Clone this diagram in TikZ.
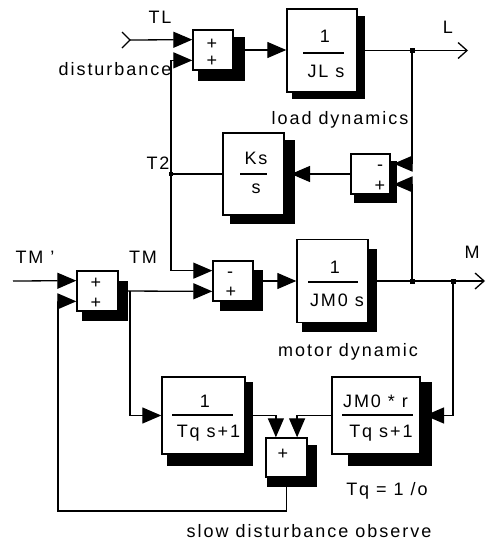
\documentclass[tikz,border=0pt]{standalone}
\usepackage{fontspec}
\setmainfont{Liberation Sans}[LetterSpace=11]
\usetikzlibrary{arrows.meta,calc}
\newcommand\sblock[9]{%
  \fill ({#2-#4/2+#6},{#3-#5/2+#7}) rectangle ({#2+#4/2+#8},{#3+#5/2+#9});
  \node[blk, minimum width=#4pt, minimum height=#5pt] (#1) at (#2,#3) {};}
\begin{document}
\begin{tikzpicture}[x=1pt,y=-1pt,
  font=\fontsize{18}{21}\selectfont,
  blk/.style={draw, fill=white, line width=1.4pt, inner sep=0pt},
  wire/.style={line width=1.3pt},
  arr/.style={line width=1.3pt, -{Triangle[length=19pt,width=16pt]}},
  outarr/.style={line width=1.3pt, -{Straight Barb[length=9pt,width=16pt,line width=1.3pt]}},
  lbl/.style={anchor=base, inner sep=0pt},
  dot/.style={fill, minimum size=5pt, inner sep=0pt},
  sdot/.style={fill, minimum size=3.5pt, inner sep=0pt},
]
\useasboundingbox (0,0) rectangle (488,541);

% blocks with shadows
\sblock{s1}{213}{50}{40}{40}{5}{7}{12}{11}
\sblock{jl}{322}{50.5}{70}{83}{5}{7}{8}{7}
\sblock{ks}{253.5}{174}{61}{82}{7}{7}{11}{9}
\sblock{s2}{370.5}{174}{39}{40}{3}{7}{7}{9}
\sblock{s3}{233}{281}{40}{40}{7}{9}{10}{10}
\sblock{jm}{332.5}{281}{71}{83}{5}{9}{9}{9}
\sblock{s4}{97.5}{291}{41}{40}{5}{10}{10}{10}
\sblock{t1}{203.5}{415.5}{83}{77}{5}{5}{8}{12}
\sblock{t2}{376}{415.5}{88}{77}{16}{5}{12}{12}
\sblock{s5}{286.5}{457.5}{41}{39}{1}{7}{10}{10}

% block contents
\node[lbl] (s1p1) at (212,49) {+};
\node[lbl] (s1p2) at (212,66) {+};
\node[lbl] (s2m) at (380,170) {-};
\node[lbl] (s2p) at (380,191) {+};
\node[lbl] (s3m) at (230,277) {-};
\node[lbl] (s3p) at (231,297) {+};
\node[lbl] (s4p1) at (96,288) {+};
\node[lbl] (s4p2) at (96,308) {+};
\node[lbl] (s5p) at (283,459) {+};

\draw[wire] (303,53) -- (344,53);
\node[lbl] (jlnum) at (325,42) {1};
\node[lbl] (jlden) at (326,77) {JL s};

\draw[wire] (240,174) -- (267,174);
\node[lbl] (ksnum) at (256,164) {Ks};
\node[lbl] (ksden) at (256,193) {s};

\draw[wire] (308,282) -- (358,282);
\node[lbl] (jmnum) at (335,273) {1};
\node[lbl] (jmden) at (337,306) {JM0 s};

\draw[wire] (172,415) -- (233,415);
\node[lbl] (t1num) at (205,407) {1};
\node[lbl] (t1den) at (208.5,437) {Tq s+1};

\draw[wire] (342,415) -- (413,415);
\node[lbl] (t2num) at (375.5,407) {JM0 * r};
\node[lbl] (t2den) at (381,437) {Tq s+1};

% ports and points
\coordinate (s1a) at ($(s1.north west)!.25!(s1.south west)$);
\coordinate (s1b) at ($(s1.north west)!.75!(s1.south west)$);
\coordinate (s2a) at ($(s2.north east)!.25!(s2.south east)+(3,0)$);
\coordinate (s2b) at ($(s2.north east)!.75!(s2.south east)+(3,0)$);
\coordinate (s3a) at ($(s3.north west)!.25!(s3.south west)$);
\coordinate (s3b) at ($(s3.north west)!.75!(s3.south west)$);
\coordinate (s4a) at ($(s4.north west)!.25!(s4.south west)$);
\coordinate (s4b) at ($(s4.north west)!.75!(s4.south west)$);
\coordinate (s5a) at ($(s5.north west)!.25!(s5.north east)$);
\coordinate (s5b) at ($(s5.north west)!.75!(s5.north east)$);
\coordinate (tlin) at (130,40);
\coordinate (lout) at (468,50.5);
\coordinate (jL) at (412,50.5);
\coordinate (jM) at (412,281);
\coordinate (jM2) at (453,281);
\coordinate (mout) at (485,281);
\coordinate (ksin) at (291,174);
\coordinate (t2j) at (171,174);
\coordinate (t2in) at (425,415.5);
\coordinate (br) at (130,291);
\coordinate (tmin) at (13,281);
\coordinate (fb) at (58,511);

% connectors
\draw[wire] ($(tlin)+(-8,-8)$) -- (tlin) -- ($(tlin)+(-8,8)$);
\draw[arr] (tlin) -- (s1a);
\draw[arr] (s1.east) -- (s1.east -| jl.west);
\draw[outarr] (jl.east) -- (lout);
\draw[arr] (jL) |- (s2a);
\draw[arr] (jM) |- (s2b);
\draw[arr] (s2.west) -- (ksin);
\draw[wire] (ks.west) -- (t2j);
\draw[arr] (t2j) |- (s1b);
\draw[arr] (t2j) |- (s3a);
\draw[arr] (s3.east) -- (jm.west);
\draw[outarr] (jm.east) -- (mout);
\draw[arr] (jM2) |- (t2in);
\draw[arr] (tmin) -- (s4a);
\draw[arr] (s4.east) -- (s3b);
\draw[arr] (br) |- (t1.west);
\draw[arr] (t1.east) -| (s5a);
\draw[arr] (t2.west) -| (s5b);
\draw[arr] (s5.south) |- (fb) |- (s4b);

\node[dot] (djL) at (jL) {};
\node[dot] (djM) at (jM) {};
\node[dot] (djM2) at (jM2) {};
\node[sdot] (dt2) at (t2j) {};

% labels
\node[lbl] (lTL) at (160,23) {TL};
\node[lbl] (ldist) at (115,75) {disturbance};
\node[lbl] (lL) at (448,33) {L};
\node[lbl] (lload) at (340,124) {load dynamics};
\node[lbl] (lT2) at (158,169) {T2};
\node[lbl] (lTMp) at (35,263) {TM '};
\node[lbl] (lTM) at (143,263) {TM};
\node[lbl] (lM) at (472,258) {M};
\node[lbl] (lmot) at (348,356) {motor dynamic};
\node[lbl] (lTq) at (387,495) {Tq = 1 /o};
\node[lbl] (lslow) at (309,537) {slow disturbance observe};
\end{tikzpicture}
\end{document}
